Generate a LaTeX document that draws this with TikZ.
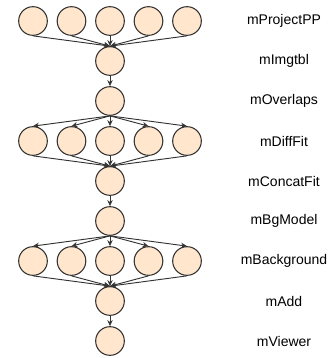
\documentclass[tikz,border=0pt]{standalone}
\usepackage{fontspec}
\setsansfont{Liberation Sans}
\usepackage{xcolor}
\usetikzlibrary{arrows.meta}
\definecolor{taskfill}{HTML}{FFE6CC}
\definecolor{taskline}{HTML}{333333}

\tikzset{
  task/.style={circle,draw=taskline,fill=taskfill,line width=0.8pt,minimum size=21.5pt,inner sep=0pt},
  dep/.style={draw=taskline,line width=0.7pt,-{Stealth[length=4.5pt,width=4pt]}},
  stage/.style={font=\sffamily\fontsize{10.5}{12}\selectfont,text=black}
}

\begin{document}
\begin{tikzpicture}[x=0.75pt,y=-0.75pt]
\useasboundingbox (0,0) rectangle (331,358);
% level 1: mProjectPP
\node[task] (pp1) at (33,21) {};
\node[task] (pp2) at (71.5,21) {};
\node[task] (pp3) at (110,21) {};
\node[task] (pp4) at (148.5,21) {};
\node[task] (pp5) at (187,21) {};
% levels 2-3
\node[task] (img) at (110,61) {};
\node[task] (ovl) at (110,101) {};
% level 4: mDiffFit
\node[task] (df1) at (33,141) {};
\node[task] (df2) at (71.5,141) {};
\node[task] (df3) at (110,141) {};
\node[task] (df4) at (148.5,141) {};
\node[task] (df5) at (187,141) {};
% levels 5-6
\node[task] (cat) at (110,181) {};
\node[task] (bgm) at (110,221) {};
% level 7: mBackground
\node[task] (bk1) at (33,261) {};
\node[task] (bk2) at (71.5,261) {};
\node[task] (bk3) at (110,261) {};
\node[task] (bk4) at (148.5,261) {};
\node[task] (bk5) at (187,261) {};
% levels 8-9
\node[task] (add) at (110,301) {};
\node[task] (view) at (110,341) {};

% edges
\draw[dep] (pp1.south) -- (img.north);
\draw[dep] (pp2.south) -- (img.north);
\draw[dep] (pp3.south) -- (img.north);
\draw[dep] (pp4.south) -- (img.north);
\draw[dep] (pp5.south) -- (img.north);
\draw[dep] (img) -- (ovl);
\draw[dep] (ovl.south) -- (df1.north);
\draw[dep] (ovl.south) -- (df2.north);
\draw[dep] (ovl.south) -- (df3.north);
\draw[dep] (ovl.south) -- (df4.north);
\draw[dep] (ovl.south) -- (df5.north);
\draw[dep] (df1.south) -- (cat.north);
\draw[dep] (df2.south) -- (cat.north);
\draw[dep] (df3.south) -- (cat.north);
\draw[dep] (df4.south) -- (cat.north);
\draw[dep] (df5.south) -- (cat.north);
\draw[dep] (cat) -- (bgm);
\draw[dep] (bgm.south) -- (bk1.north);
\draw[dep] (bgm.south) -- (bk2.north);
\draw[dep] (bgm.south) -- (bk3.north);
\draw[dep] (bgm.south) -- (bk4.north);
\draw[dep] (bgm.south) -- (bk5.north);
\draw[dep] (bk1.south) -- (add.north);
\draw[dep] (bk2.south) -- (add.north);
\draw[dep] (bk3.south) -- (add.north);
\draw[dep] (bk4.south) -- (add.north);
\draw[dep] (bk5.south) -- (add.north);
\draw[dep] (add) -- (view);

% stage names
\node[stage] (lpp) at (284,21) {mProjectPP};
\node[stage] (limg) at (284,61) {mImgtbl};
\node[stage] (lovl) at (284,101) {mOverlaps};
\node[stage] (ldf) at (284,141) {mDiffFit};
\node[stage] (lcat) at (284,181) {mConcatFit};
\node[stage] (lbgm) at (284,221) {mBgModel};
\node[stage] (lbk) at (284,261) {mBackground};
\node[stage] (ladd) at (284,301) {mAdd};
\node[stage] (lview) at (284,341) {mViewer};
\end{tikzpicture}
\end{document}
